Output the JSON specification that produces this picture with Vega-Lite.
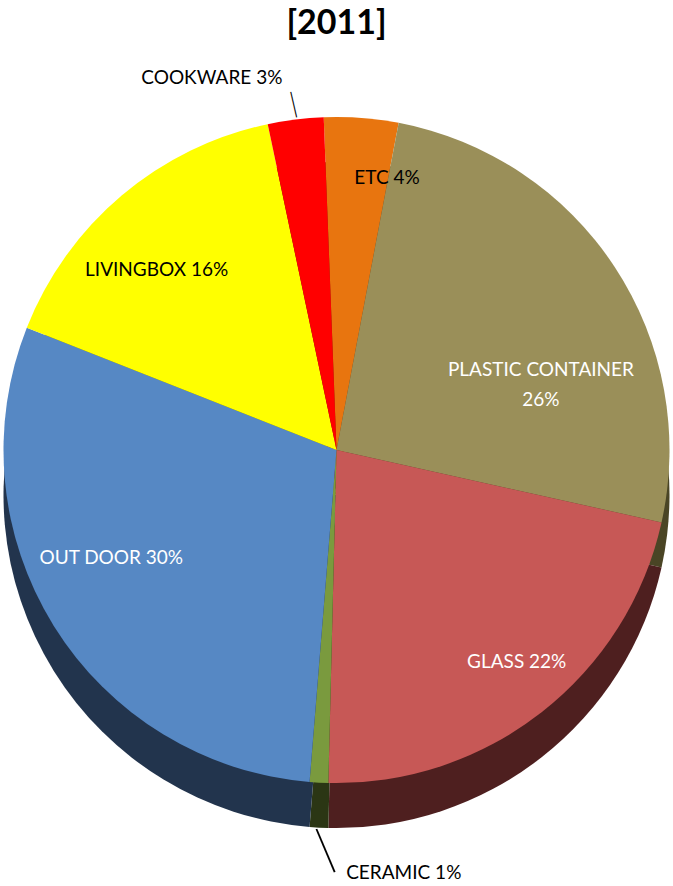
{
  "$schema": "https://vega.github.io/schema/vega-lite/v6.json",
  "width": 673,
  "height": 810,
  "autosize": {"type": "none"},
  "padding": {"left": 0, "right": 0, "top": 45, "bottom": 31},
  "background": "white",
  "title": {"text": "[2011]", "fontSize": 34, "font": "Lato", "fontWeight": "bold", "color": "black", "offset": 4, "anchor": "middle"},
  "config": {"view": {"stroke": null}},
  "data": {"values": [
    {"idx": 1, "cat": "ETC", "value": 3.6, "label": "ETC 4%"},
    {"idx": 2, "cat": "PLASTIC CONTAINER", "value": 25.5, "label": "PLASTIC CONTAINER\n26%"},
    {"idx": 3, "cat": "GLASS", "value": 21.9, "label": "GLASS 22%"},
    {"idx": 4, "cat": "CERAMIC", "value": 0.9, "label": "CERAMIC 1%"},
    {"idx": 5, "cat": "OUT DOOR", "value": 29.7, "label": "OUT DOOR 30%"},
    {"idx": 6, "cat": "LIVINGBOX", "value": 15.7, "label": "LIVINGBOX 16%"},
    {"idx": 7, "cat": "COOKWARE", "value": 2.7, "label": "COOKWARE 3%"}
  ]},
  "encoding": {
    "theta": {"field": "value", "type": "quantitative", "stack": true, "scale": {"range": [-0.0384, 6.2448]}},
    "order": {"field": "idx", "type": "quantitative"},
    "detail": {"field": "cat", "type": "nominal"}
  },
  "layer": [
    {
      "mark": {"type": "arc", "radius": 333, "yOffset": 45},
      "encoding": {
        "color": {"field": "cat", "type": "nominal", "legend": null,
          "scale": {"domain": ["ETC", "PLASTIC CONTAINER", "GLASS", "CERAMIC", "OUT DOOR", "LIVINGBOX", "COOKWARE"],
                    "range": ["#7a3a06", "#4a4525", "#4e1f1f", "#2b3614", "#22344d", "#777700", "#7a0000"]}}
      }
    },
    {
      "mark": {"type": "arc", "radius": 333},
      "encoding": {
        "color": {"field": "cat", "type": "nominal", "legend": null,
          "scale": {"domain": ["ETC", "PLASTIC CONTAINER", "GLASS", "CERAMIC", "OUT DOOR", "LIVINGBOX", "COOKWARE"],
                    "range": ["#e8750f", "#9a8f59", "#c75856", "#7a9a3e", "#5688c4", "#ffff00", "#ff0000"]}}
      }
    },
    {
      "mark": {"type": "text", "font": "Lato", "fontWeight": 300, "baseline": "middle", "align": "center",
        "fontSize": {"expr": "datum.cat === 'CERAMIC' ? 50 : 28"},
        "radius": {"expr": "datum.cat === 'CERAMIC' ? 405 : 348"},
        "dx": {"expr": "datum.cat === 'CERAMIC' ? 11 : 0"},
        "angle": {"expr": "datum.cat === 'CERAMIC' ? 337 : 347"}
      },
      "encoding": {
        "text": {"condition": {"test": "datum.cat === 'CERAMIC' || datum.cat === 'COOKWARE'", "value": "|"}, "value": ""},
        "color": {"value": "black"}
      }
    },
    {
      "mark": {"type": "text", "font": "Lato", "fontSize": 19, "lineBreak": "\n", "lineHeight": 30, "baseline": "middle",
        "radius": {"expr": "datum.cat === 'COOKWARE' ? 375 : datum.cat === 'CERAMIC' ? 424 : datum.cat === 'ETC' ? 275 : datum.cat === 'PLASTIC CONTAINER' ? 222 : datum.cat === 'GLASS' ? 278 : datum.cat === 'OUT DOOR' ? 250 : 254"},
        "dx": {"expr": "datum.cat === 'COOKWARE' ? -8 : datum.cat === 'CERAMIC' ? 32 : datum.cat === 'ETC' ? 30 : datum.cat === 'PLASTIC CONTAINER' ? 19 : datum.cat === 'GLASS' ? 9 : datum.cat === 'OUT DOOR' ? -13 : -16"},
        "dy": {"expr": "datum.cat === 'COOKWARE' ? 0 : datum.cat === 'CERAMIC' ? 0 : datum.cat === 'ETC' ? 2 : datum.cat === 'PLASTIC CONTAINER' ? 42 : datum.cat === 'GLASS' ? -7 : datum.cat === 'OUT DOOR' ? -24 : 14"},
        "align": {"expr": "datum.cat === 'COOKWARE' ? 'right' : datum.cat === 'CERAMIC' ? 'left' : 'center'"}
      },
      "encoding": {
        "text": {"field": "label", "type": "nominal"},
        "color": {"condition": {"test": "datum.cat === 'PLASTIC CONTAINER' || datum.cat === 'GLASS' || datum.cat === 'OUT DOOR'", "value": "white"}, "value": "black"}
      }
    }
  ],
  "resolve": {"scale": {"color": "independent"}}
}
